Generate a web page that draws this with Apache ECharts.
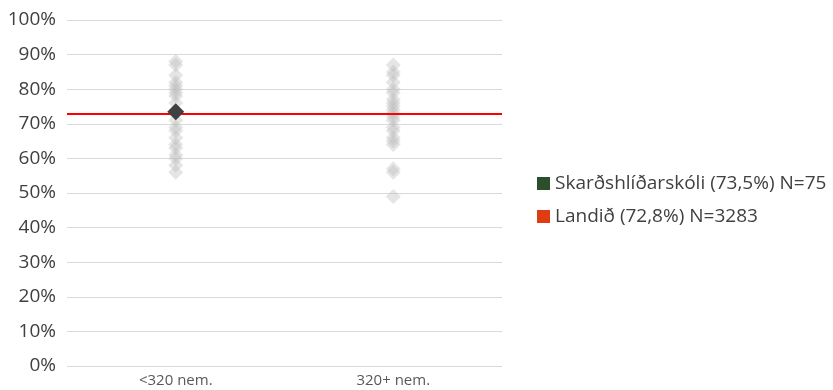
<!DOCTYPE html>
<html><head><meta charset="utf-8">
<script src="https://cdn.jsdelivr.net/npm/echarts@6/dist/echarts.min.js"></script>
<style>html,body{margin:0;padding:0;background:#fff}#c{width:833px;height:390px}</style>
</head><body><div id="c"></div>
<script>
const categories = ['<320 nem.', '320+ nem.'];
const smallSchools = [88, 87, 84, 82, 81, 80, 79, 78, 76, 73, 71, 69, 68, 66, 64, 63, 61, 60, 58, 56];
const largeSchools = [87, 85, 84, 82, 80, 79, 77, 76, 75, 74, 73, 72, 71, 69, 68, 66, 65, 64, 57, 56, 49];
const schoolName = 'Skarðshlíðarskóli (73,5%) N=75';
const schoolValue = 73.5;
const schoolCategory = 0;
const nationName = 'Landið (72,8%) N=3283';
const nationValue = 72.8;
const yTicks = [0, 10, 20, 30, 40, 50, 60, 70, 80, 90, 100];

const greyData = smallSchools.map(v => [0, v]).concat(largeSchools.map(v => [1, v]));

const chart = echarts.init(document.getElementById('c'));
chart.setOption({
  animation: false,
  textStyle: { fontFamily: '"Open Sans", sans-serif' },
  grid: { left: 67, right: 331, top: 20, bottom: 24 },
  xAxis: {
    type: 'category', data: categories, boundaryGap: true,
    axisLine: { show: false }, axisTick: { show: false },
    axisLabel: { color: '#595959', fontSize: 15, margin: 7 }
  },
  yAxis: {
    type: 'value', min: yTicks[0], max: yTicks[yTicks.length - 1], interval: 10,
    axisLine: { show: false }, axisTick: { show: false },
    axisLabel: { color: '#404040', fontSize: 19, formatter: '{value}%', margin: 11 },
    splitLine: { lineStyle: { color: '#d9d9d9', width: 1 } }
  },
  legend: {
    orient: 'vertical', left: 532, top: 169, itemGap: 14,
    itemWidth: 13, itemHeight: 13,
    textStyle: { color: '#404040', fontSize: 19 },
    data: [
      { name: schoolName, icon: 'rect', itemStyle: { color: '#2b4f2c', opacity: 1 } },
      { name: nationName, icon: 'rect', itemStyle: { color: '#e03c14', opacity: 1 } }
    ]
  },
  series: [
    {
      name: 'others', type: 'scatter', symbol: 'diamond', symbolSize: 15,
      itemStyle: { color: 'rgba(190,190,190,0.5)', opacity: 0.8 },
      data: greyData, z: 2
    },
    {
      name: nationName, type: 'line', data: [], 
      itemStyle: { color: '#e03c14' },
      markLine: {
        silent: true, symbol: 'none', label: { show: false },
        lineStyle: { color: '#ff0000', width: 2, type: 'solid' },
        data: [{ yAxis: nationValue }]
      }, z: 3
    },
    {
      name: schoolName, type: 'scatter', symbol: 'diamond', symbolSize: 17,
      itemStyle: { color: '#404040', opacity: 1 },
      data: [[schoolCategory, schoolValue]], z: 5
    }
  ]
});
</script></body></html>
